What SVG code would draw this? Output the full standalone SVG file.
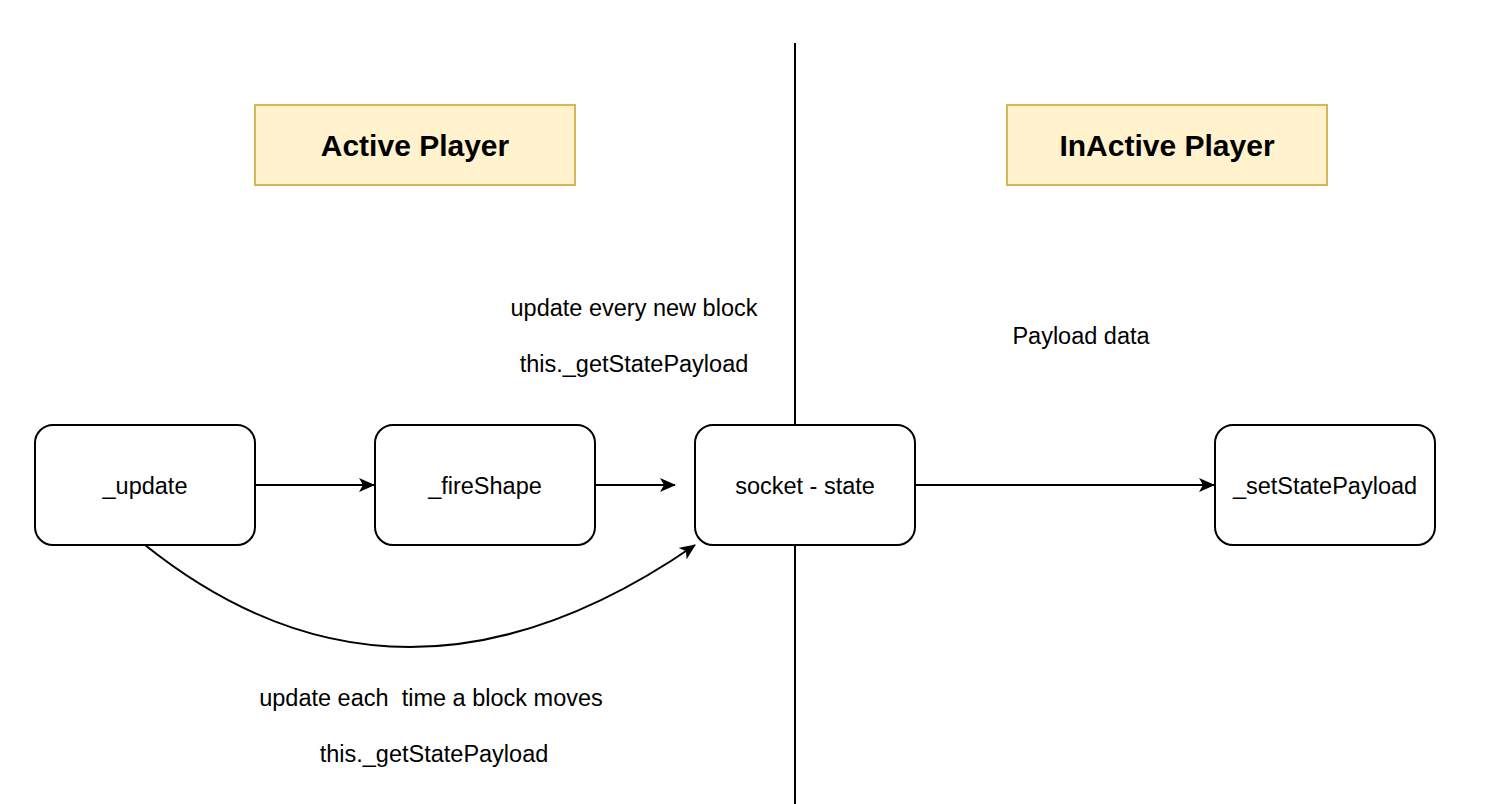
<svg xmlns="http://www.w3.org/2000/svg" width="1508" height="804" viewBox="0 0 1508 804">
<style>
.node{fill:#fff;stroke:#000;stroke-width:2}
.title{fill:#fff2cc;stroke:#d6b656;stroke-width:2}
.t{font-family:"Liberation Sans",Arial,sans-serif;font-size:23.5px;fill:#000;text-anchor:middle;dominant-baseline:central;white-space:pre}
.tb{font-family:"Liberation Sans",Arial,sans-serif;font-size:30px;font-weight:bold;fill:#000;text-anchor:middle;dominant-baseline:central}
.c{fill:none;stroke:#000;stroke-width:2}
</style>
<defs>
<marker id="arr" markerWidth="16" markerHeight="14" viewBox="0 0 16 14" refX="15" refY="7" orient="auto" markerUnits="userSpaceOnUse">
<path d="M0,0 L16,7 L0,14 L4,7 Z" fill="#000"/>
</marker>
</defs>
<rect width="1508" height="804" fill="#fff"/>
<g id="divider"><line x1="795" y1="43" x2="795" y2="804" stroke="#000" stroke-width="2"/></g>
<g id="active-title"><rect class="title" x="255" y="105" width="320" height="80"/><text class="tb" x="415" y="145">Active Player</text></g>
<g id="inactive-title"><rect class="title" x="1007" y="105" width="320" height="80"/><text class="tb" x="1167" y="145">InActive Player</text></g>
<g id="connectors">
<line class="c" x1="255" y1="485" x2="374" y2="485" marker-end="url(#arr)"/>
<line class="c" x1="595" y1="485" x2="675" y2="485" marker-end="url(#arr)"/>
<line class="c" x1="915" y1="485" x2="1214" y2="485" marker-end="url(#arr)"/>
<path class="c" d="M145,545 Q400,749 695,545" marker-end="url(#arr)"/>
</g>
<g id="update"><rect class="node" x="35" y="425" width="220" height="120" rx="18"/><text class="t" x="145" y="486">_update</text></g>
<g id="fireShape"><rect class="node" x="375" y="425" width="220" height="120" rx="18"/><text class="t" x="485" y="486">_fireShape</text></g>
<g id="socket"><rect class="node" x="695" y="425" width="220" height="120" rx="18"/><text class="t" x="805" y="486">socket - state</text></g>
<g id="setStatePayload"><rect class="node" x="1215" y="425" width="220" height="120" rx="18"/><text class="t" x="1325" y="486">_setStatePayload</text></g>
<g id="labels">
<text class="t" x="634" y="308">update every new block</text>
<text class="t" x="634" y="364">this._getStatePayload</text>
<text class="t" x="1081" y="336">Payload data</text>
<text class="t" x="431" y="698" xml:space="preserve">update each  time a block moves</text>
<text class="t" x="434" y="754">this._getStatePayload</text>
</g>
</svg>
